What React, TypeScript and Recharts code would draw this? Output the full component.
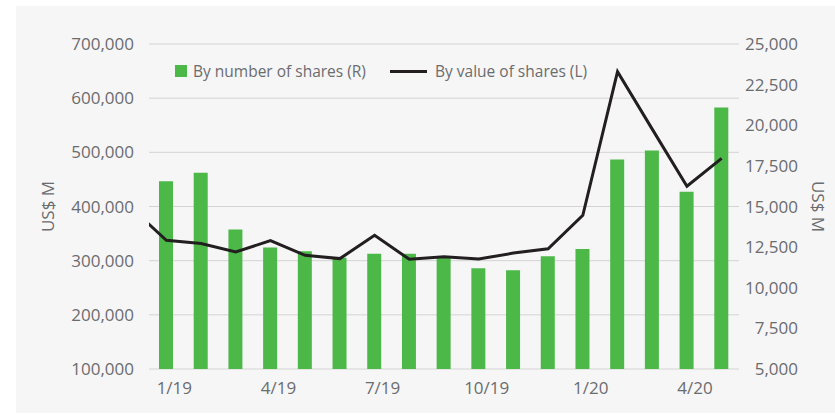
import React from 'react';
import { ComposedChart, Bar, Line, XAxis, YAxis, CartesianGrid } from 'recharts';

const months = ['12/18', '1/19', '2/19', '3/19', '4/19', '5/19', '6/19', '7/19', '8/19', '9/19', '10/19', '11/19', '12/19', '1/20', '2/20', '3/20', '4/20', '5/20'];
const numberOfShares = [null, 16550, 17070, 13590, 12480, 12250, 11840, 12090, 12090, 11840, 11200, 11080, 11940, 12380, 17890, 18440, 15910, 21100];
const valueOfShares = [397000, 337600, 331500, 316000, 337000, 309900, 303800, 346800, 302500, 307000, 303000, 314000, 322000, 383800, 648800, 542800, 437400, 488700];
const leftTicks = [100000, 200000, 300000, 400000, 500000, 600000, 700000];
const rightTicks = [5000, 7500, 10000, 12500, 15000, 17500, 20000, 22500, 25000];
const xTicks = [0, 3, 6, 9, 12, 15];
const seriesNames = ['By number of shares (R)', 'By value of shares (L)'];

const data = months.map((m, i) => ({ x: i - 1, month: m, count: numberOfShares[i], value: valueOfShares[i] }));

const FONT = '"Open Sans", sans-serif';
const TEXT = '#6b6c6e';
const fmt = (v: number) => v.toLocaleString('en-US');

const LeftTick = (p: any) => (
  <text x={118} y={p.y} dy={6} textAnchor="end" fill={TEXT} fontSize={17} fontFamily={FONT}>{fmt(p.payload.value)}</text>
);
const RightTick = (p: any) => (
  <text x={782} y={p.y} dy={6} textAnchor="end" fill={TEXT} fontSize={17} fontFamily={FONT}>{fmt(p.payload.value)}</text>
);
const BottomTick = (p: any) => (
  <text x={p.x + 8} y={388} textAnchor="middle" fill={TEXT} fontSize={17} fontFamily={FONT}>{months[p.payload.value + 1]}</text>
);

const LeftLabel = (p: any) => {
  const vb = p.viewBox || { x: 0, y: 38, height: 325 };
  const cx = 31;
  const cy = vb.y + vb.height / 2;
  return <text x={cx} y={cy} transform={`rotate(-90 ${cx} ${cy})`} textAnchor="middle" dominantBaseline="central" fill={TEXT} fontSize={17} fontFamily={FONT}>US$ M</text>;
};
const RightLabel = (p: any) => {
  const vb = p.viewBox || { x: 723, y: 38, height: 325 };
  const cx = 802;
  const cy = vb.y + vb.height / 2;
  return <text x={cx} y={cy} transform={`rotate(90 ${cx} ${cy})`} textAnchor="middle" dominantBaseline="central" fill={TEXT} fontSize={17} fontFamily={FONT}>US$ M</text>;
};

const LegendBox = () => (
  <div style={{ position: 'absolute', left: 0, top: 50, width: 819, height: 30, fontFamily: FONT, fontSize: 15.5, color: TEXT }}>
    <div style={{ position: 'absolute', left: 159, top: 9, width: 12, height: 12, background: '#4cb848' }} />
    <div style={{ position: 'absolute', left: 177, top: 4, lineHeight: '22px', whiteSpace: 'nowrap' }}>{seriesNames[0]}</div>
    <div style={{ position: 'absolute', left: 374, top: 13.5, width: 37, height: 3, background: '#231f20' }} />
    <div style={{ position: 'absolute', left: 419, top: 4, lineHeight: '22px', whiteSpace: 'nowrap' }}>{seriesNames[1]}</div>
  </div>
);

export default function App() {
  return (
    <div style={{ position: 'absolute', left: 16, top: 6, width: 819, height: 407, background: '#f6f6f6' }}>
      <ComposedChart width={819} height={407} data={data} margin={{ top: 38, right: 0, left: 0, bottom: 0 }}>
        <CartesianGrid yAxisId="left" vertical={false} horizontal stroke="#d4d4d4" strokeWidth={1} />
        <XAxis dataKey="x" type="number" domain={[-0.5, 16.5]} allowDataOverflow ticks={xTicks} interval={0} height={44} axisLine={false} tickLine={false} tick={<BottomTick />} />
        <YAxis yAxisId="left" orientation="left" width={133} domain={[100000, 700000]} ticks={leftTicks} interval={0} axisLine={false} tickLine={false} tickSize={0} tick={<LeftTick />} label={<LeftLabel />} />
        <YAxis yAxisId="right" orientation="right" width={96} domain={[5000, 25000]} ticks={rightTicks} interval={0} axisLine={false} tickLine={false} tickSize={0} tick={<RightTick />} label={<RightLabel />} />
        <Bar yAxisId="right" dataKey="count" name={seriesNames[0]} fill="#4cb848" barSize={14} isAnimationActive={false} />
        <Line yAxisId="left" dataKey="value" name={seriesNames[1]} stroke="#231f20" strokeWidth={3} dot={false} activeDot={false} isAnimationActive={false} />
      </ComposedChart>
      <LegendBox />
    </div>
  );
}
